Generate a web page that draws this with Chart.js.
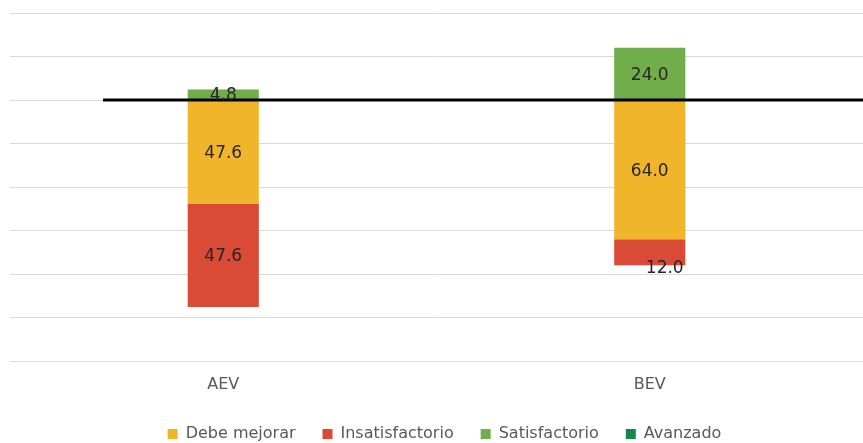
<!DOCTYPE html>
<html>
<head>
<meta charset="utf-8">
<script src="https://cdn.jsdelivr.net/npm/chart.js@4/dist/chart.umd.min.js"></script>
<style>
  html, body { margin: 0; padding: 0; background: #ffffff; }
  #wrap { width: 863px; height: 443px; }
</style>
</head>
<body>
<div id="wrap"><canvas id="chart" width="863" height="443"></canvas></div>
<script>
// Categories and series (negative = below the reference line)
const categories = ['AEV', 'BEV'];
const debeMejorar = [-47.6, -64.0];
const insatisfactorio = [-47.6, -12.0];
const satisfactorio = [4.8, 24.0];
const avanzado = [0, 0];
const yTicks = { min: -120, max: 40, step: 20 };

const seriesNames = ['Debe mejorar', 'Insatisfactorio', 'Satisfactorio', 'Avanzado'];
const seriesColors = ['#F0B52B', '#D94A37', '#72AD4C', '#13884A'];
const seriesData = [debeMejorar, insatisfactorio, satisfactorio, avanzado];

// Thick black line along the zero value, starting a little left of the first bar
const zeroLinePlugin = {
  id: 'zeroLine',
  afterDatasetsDraw(chart, args, opts) {
    const x = chart.scales.x, y = chart.scales.y, area = chart.chartArea;
    const step = x.getPixelForValue(1) - x.getPixelForValue(0);
    const x0 = x.getPixelForValue(0) + opts.startOffset * step;
    const y0 = y.getPixelForValue(0);
    const ctx = chart.ctx;
    ctx.save();
    ctx.strokeStyle = opts.color;
    ctx.lineWidth = opts.width;
    ctx.beginPath();
    ctx.moveTo(x0, y0);
    ctx.lineTo(area.right, y0);
    ctx.stroke();
    ctx.restore();
  }
};

// Value labels centred in each segment
const valueLabelPlugin = {
  id: 'valueLabels',
  afterDatasetsDraw(chart, args, opts) {
    const ctx = chart.ctx;
    ctx.save();
    ctx.font = opts.font;
    ctx.fillStyle = opts.color;
    ctx.textAlign = 'center';
    ctx.textBaseline = 'middle';
    chart.data.datasets.forEach((ds, di) => {
      const meta = chart.getDatasetMeta(di);
      meta.data.forEach((bar, i) => {
        const v = ds.data[i];
        if (!v) return;
        const nudge = (opts.nudge[di + ':' + i]) || [0, 0];
        const cy = (bar.y + bar.base) / 2 + opts.dy;
        ctx.fillText(Math.abs(v).toFixed(1), bar.x + nudge[0], cy + nudge[1]);
      });
    });
    ctx.restore();
  }
};

// Fixed legend block height so the row sits near the bottom edge
const legendPlacePlugin = {
  id: 'legendPlace',
  afterInit(chart, args, opts) {
    const lg = chart.legend;
    if (!lg) return;
    const fit = lg.fit;
    lg.fit = function () {
      fit.call(this);
      this.height = opts.height;
    };
  },
  afterLayout(chart, args, opts) {
    const lg = chart.legend;
    if (!lg) return;
    lg.left += opts.shiftX;
    lg.right += opts.shiftX;
  }
};

new Chart(document.getElementById('chart'), {
  type: 'bar',
  data: {
    labels: categories,
    datasets: seriesData.map((d, i) => ({
      label: seriesNames[i],
      data: d,
      backgroundColor: seriesColors[i],
      borderWidth: 0,
      categoryPercentage: 1,
      barPercentage: 0.1667
    }))
  },
  plugins: [legendPlacePlugin, zeroLinePlugin, valueLabelPlugin],
  options: {
    responsive: false,
    animation: false,
    devicePixelRatio: 1,
    layout: { padding: { left: 10, right: 0, top: 13, bottom: 0 } },
    scales: {
      x: {
        stacked: true,
        grid: { display: false, drawTicks: false },
        border: { display: false },
        ticks: { color: '#595959', font: { family: 'DejaVu Sans', size: 16 }, padding: 14 },
        afterFit(scale) { scale.height = 38; }
      },
      y: {
        stacked: true,
        min: yTicks.min,
        max: yTicks.max,
        ticks: { stepSize: yTicks.step, display: false },
        grid: { color: '#D9D9D9', lineWidth: 1, drawTicks: false },
        border: { display: false },
        afterFit(scale) { scale.width = 0; }
      }
    },
    plugins: {
      legend: {
        position: 'bottom',
        labels: {
          boxWidth: 10,
          boxHeight: 10,
          padding: 27,
          color: '#595959',
          font: { family: 'DejaVu Sans', size: 16 }
        }
      },
      legendPlace: { height: 44, shiftX: 8 },
      zeroLine: { startOffset: -0.282, color: '#000000', width: 3 },
      valueLabels: {
        font: '17px "DejaVu Sans"',
        color: '#262626',
        dy: 1.5,
        nudge: { '1:1': [15, 15] }
      },
      tooltip: { enabled: false }
    }
  }
});
</script>
</body>
</html>
